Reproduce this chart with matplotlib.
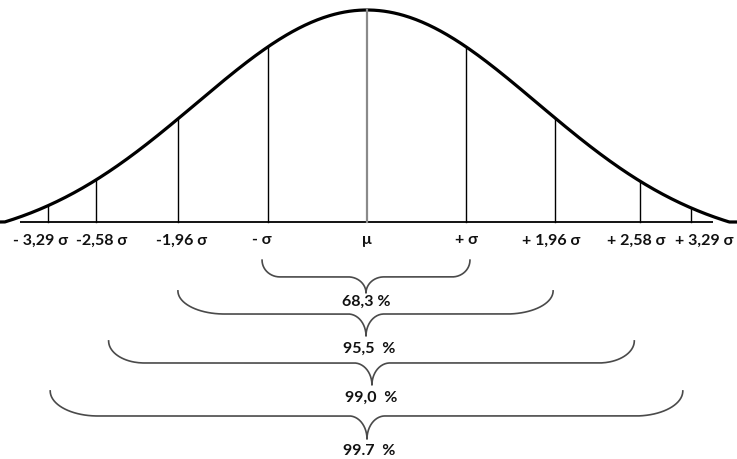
import numpy as np
import matplotlib
matplotlib.use("Agg")
import matplotlib.pyplot as plt

plt.rcParams['font.family'] = ['Lato', 'DejaVu Sans']

# ---- data ----
sigma_labels = ["- 3,29 σ", "-2,58 σ", "-1,96 σ", "- σ", "μ", "+ σ", "+ 1,96 σ", "+ 2,58 σ", "+ 3,29 σ"]
line_pos = [-3.22, -2.74, -1.91, -1.0, 0.0, 1.0, 1.90, 2.76, 3.27]        # drawn positions (x units)
label_pos = [-3.30, -2.68, -1.87, -1.06, 0.0, 1.01, 1.86, 2.72, 3.41]

pct_labels = ["68,3 %", "95,5  %", "99,0  %", "99.7  %"]
brace_left = [-1.06, -1.91, -2.61, -3.20]
brace_right = [1.04, 1.88, 2.70, 3.19]
brace_mid = [-0.01, -0.01, 0.05, 0.0]
brace_top = [-0.18, -0.325, -0.561, -0.797]
brace_flat = [-0.259, -0.434, -0.665, -0.915]
brace_tip = [-0.335, -0.538, -0.769, -1.024]
brace_r = [0.18, 0.47, 0.36, 0.48]
pct_y = [-0.377, -0.599, -0.830, -1.080]
pct_x = [-0.01, 0.02, 0.04, 0.02]

curve_sd = 1.72
curve_end = 3.66


def curve(u):
    c = np.exp(-curve_end ** 2 / (2 * curve_sd ** 2))
    return np.clip((np.exp(-np.asarray(u) ** 2 / (2 * curve_sd ** 2)) - c) / (1 - c), 0, None)


fig = plt.figure(figsize=(7.37, 4.59), dpi=100)
ax = fig.add_axes([0, 0, 1, 1])
ax.set_xlim(-367 / 99, (737 - 367) / 99)
ax.set_ylim(-(459 - 222) / 212, 222 / 212)
ax.axis('off')

# baseline
ax.plot([-3.505, 3.495], [0, 0], color='black', lw=1.3, solid_capstyle='butt')

# curve
u = np.linspace(-3.72, 3.75, 600)
ax.plot(u, curve(u), color='black', lw=2.3, solid_capstyle='round')

# vertical lines
for p in line_pos:
    col = '#8a8a8a' if p == 0 else 'black'
    lw = 1.6 if p == 0 else 1.0
    ax.plot([p, p], [0, float(curve(p))], color=col, lw=lw)

# sigma labels
for p, t in zip(label_pos, sigma_labels):
    ax.text(p, -0.087, t, ha='center', va='center', fontsize=11.5, fontweight='bold', color='#111111')


def brace(x0, x1, xm, ytop, yflat, ytip, r, w=0.18):
    t = np.linspace(0, np.pi / 2, 40)
    # left arm
    lx = x0 + r - r * np.cos(t)
    ly = ytop + (yflat - ytop) * np.sin(t)
    # left middle
    mx = xm - w + w * np.sin(t)
    my = yflat + (ytip - yflat) * (1 - np.cos(t))
    # right middle (mirror)
    rmx = (xm + w - w * np.sin(t))[::-1]
    rmy = my[::-1]
    # right arm
    rx = (x1 - r + r * np.cos(t))[::-1]
    ry = (ytop + (yflat - ytop) * np.sin(t))[::-1]
    xs = np.concatenate([lx, mx, rmx, rx])
    ys = np.concatenate([ly, my, rmy, ry])
    ax.plot(xs, ys, color='#4a4a4a', lw=1.2)


for i in range(len(pct_labels)):
    brace(brace_left[i], brace_right[i], brace_mid[i], brace_top[i], brace_flat[i], brace_tip[i], brace_r[i])
    ax.text(pct_x[i], pct_y[i], pct_labels[i], ha='center', va='center', fontsize=11.5,
            fontweight='bold', color='#111111')

fig.savefig('out.png', dpi=100)
